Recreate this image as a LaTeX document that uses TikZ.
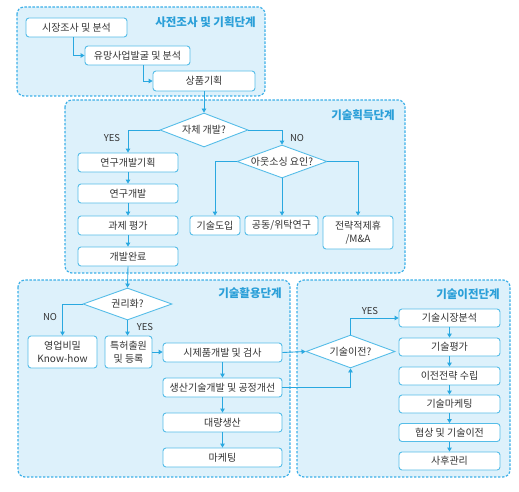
\documentclass[tikz,border=0pt]{standalone}
\usepackage{fontspec}
\setmainfont{Noto Sans CJK KR}
\usetikzlibrary{shapes.geometric,arrows.meta}
\definecolor{lineblue}{HTML}{29A8E0}
\definecolor{boxblue}{HTML}{55BDE8}
\definecolor{bgblue}{HTML}{DDF1FB}
\definecolor{dashblue}{HTML}{3DB0E8}
\definecolor{titleblue}{HTML}{2A9FD8}
\definecolor{txt}{HTML}{333333}
\newcommand{\zb}[1]{\makebox[0pt][c]{#1}}
\tikzset{
  phase/.style={draw=dashblue, fill=bgblue, line width=1.2pt, dash pattern=on 2.4pt off 1.6pt, rounded corners=7pt},
  title/.style={anchor=east, text=titleblue, font=\fontsize{11.5}{13}\selectfont\bfseries, inner sep=0pt},
  box/.style={draw=boxblue, fill=white, line width=0.9pt, rounded corners=3pt, text=txt, font=\fontsize{10}{12.5}\selectfont, inner sep=0.5pt, align=center},
  dia/.style={diamond, draw=boxblue, fill=white, line width=0.9pt, text=txt, font=\fontsize{10}{12}\selectfont, inner sep=0pt},
  arr/.style={draw=lineblue, line width=0.9pt, -{Triangle[length=4pt,width=4.5pt]}},
  lab/.style={text=txt, font=\fontsize{9.5}{11}\selectfont, inner sep=0pt}
}
\begin{document}
\begin{tikzpicture}[x=1pt,y=-1pt]
\useasboundingbox (0,0) rectangle (519,492);
% regions
\path[phase] (17,7) rectangle (265,96);
\path[phase] (65,100) rectangle (405,273);
\path[phase] (18,280) rectangle (290,477);
\path[phase] (297,280) rectangle (510,477);
\node[title] (p1) at (256,22) {사전조사 및 기획단계};
\node[title] (p2) at (395,115) {기술획득단계};
\node[title] (p3) at (282,293) {기술활용단계};
\node[title] (p4) at (500,294) {기술이전단계};
% phase 1
\node[box, minimum width=101pt, minimum height=19pt] (b1) at (76.5,27.5) {시장조사 및 분석};
\node[box, minimum width=105pt, minimum height=19pt] (b2) at (137.5,55.5) {유망사업발굴 및 분석};
\node[box, minimum width=102pt, minimum height=20pt] (b3) at (204,81) {상품기획};
% phase 2
\node[dia, minimum width=88pt, minimum height=34pt] (d1) at (204,130) {\zb{자체 개발?}};
\node[box, minimum width=100pt, minimum height=19pt] (r1) at (128,162.5) {연구개발기획};
\node[box, minimum width=100pt, minimum height=19pt] (r2) at (128,193.5) {연구개발};
\node[box, minimum width=100pt, minimum height=19pt] (r3) at (128,225.5) {과제 평가};
\node[box, minimum width=100pt, minimum height=19pt] (r4) at (128,256.5) {개발완료};
\node[dia, minimum width=90pt, minimum height=33pt] (d2) at (282,161.5) {\zb{아웃소싱 요인?}};
\node[box, minimum width=50pt, minimum height=19pt] (o1) at (215,225.5) {기술도입};
\node[box, minimum width=73pt, minimum height=19pt] (o2) at (281.5,225.5) {공동/위탁연구};
\node[box, minimum width=70pt, minimum height=33pt] (o3) at (358,232.5) {전략적제휴\\/M\&A};
% phase 3
\node[dia, minimum width=89pt, minimum height=32pt] (d3) at (127.5,304) {\zb{권리화?}};
\node[box, minimum width=69pt, minimum height=32pt] (k1) at (62.5,352) {영업비밀\\Know-how};
\node[box, minimum width=47pt, minimum height=32pt] (k2) at (128.5,352) {특허출원\\및 등록};
\node[box, minimum width=119pt, minimum height=19pt] (u1) at (222.5,352.5) {시제품개발 및 검사};
\node[box, minimum width=119pt, minimum height=19pt] (u2) at (222.5,387.5) {생산기술개발 및 공정개선};
\node[box, minimum width=119pt, minimum height=19pt] (u3) at (222.5,422.5) {대량생산};
\node[box, minimum width=119pt, minimum height=19pt] (u4) at (222.5,457.5) {마케팅};
% phase 4
\node[dia, minimum width=89pt, minimum height=33pt] (d4) at (350.5,351.5) {\zb{기술이전?}};
\node[box, minimum width=101pt, minimum height=18pt] (t1) at (449.5,318) {기술시장분석};
\node[box, minimum width=101pt, minimum height=18pt] (t2) at (449.5,347) {기술평가};
\node[box, minimum width=101pt, minimum height=18pt] (t3) at (449.5,376) {이전전략 수립};
\node[box, minimum width=101pt, minimum height=18pt] (t4) at (449.5,404) {기술마케팅};
\node[box, minimum width=101pt, minimum height=18pt] (t5) at (449.5,432.5) {협상 및 기술이전};
\node[box, minimum width=101pt, minimum height=18pt] (t6) at (449.5,461) {사후관리};
% labels
\node[lab] (y1) at (112,138) {YES};
\node[lab] (n1) at (297,138) {NO};
\node[lab] (n2) at (50,317) {NO};
\node[lab] (y2) at (145,327) {YES};
\node[lab] (y3) at (370,311) {YES};
% connectors phase 1
\draw[arr] ([xshift=-3.5pt]b1.south) |- (b2.west);
\draw[arr] ([xshift=5.5pt]b2.south) |- (b3.west);
\draw[arr] (b3.south) -- (d1.north);
% phase 2
\draw[arr] (d1.west) -| (r1.north);
\draw[arr] (d1.east) -| (d2.north);
\draw[arr] (r1.south) -- (r2.north);
\draw[arr] (r2.south) -- (r3.north);
\draw[arr] (r3.south) -- (r4.north);
\draw[arr] (d2.west) -| (o1.north);
\draw[arr] (d2.south) -- (d2.south |- o2.north);
\draw[arr] (d2.east) -| (o3.north);
\draw[arr] (r4.south) -- (d3.north);
% phase 3
\draw[arr] (d3.west) -| (k1.north);
\draw[arr] (d3.south) -- (d3.south |- k2.north);
\draw[arr] (k2.east) -- (k2.east -| u1.west);
\draw[arr] (u1.south) -- (u2.north);
\draw[arr] (u2.south) -- (u3.north);
\draw[arr] (u3.south) -- (u4.north);
\draw[arr] (u1.east) -- (d4.west);
\draw[arr] (u2.east) -| (d4.south);
% phase 4
\draw[arr] (d4.north) |- (t1.west);
\draw[arr] (t1.south) -- (t2.north);
\draw[arr] (t2.south) -- (t3.north);
\draw[arr] (t3.south) -- (t4.north);
\draw[arr] (t4.south) -- (t5.north);
\draw[arr] (t5.south) -- (t6.north);
\end{tikzpicture}
\end{document}
